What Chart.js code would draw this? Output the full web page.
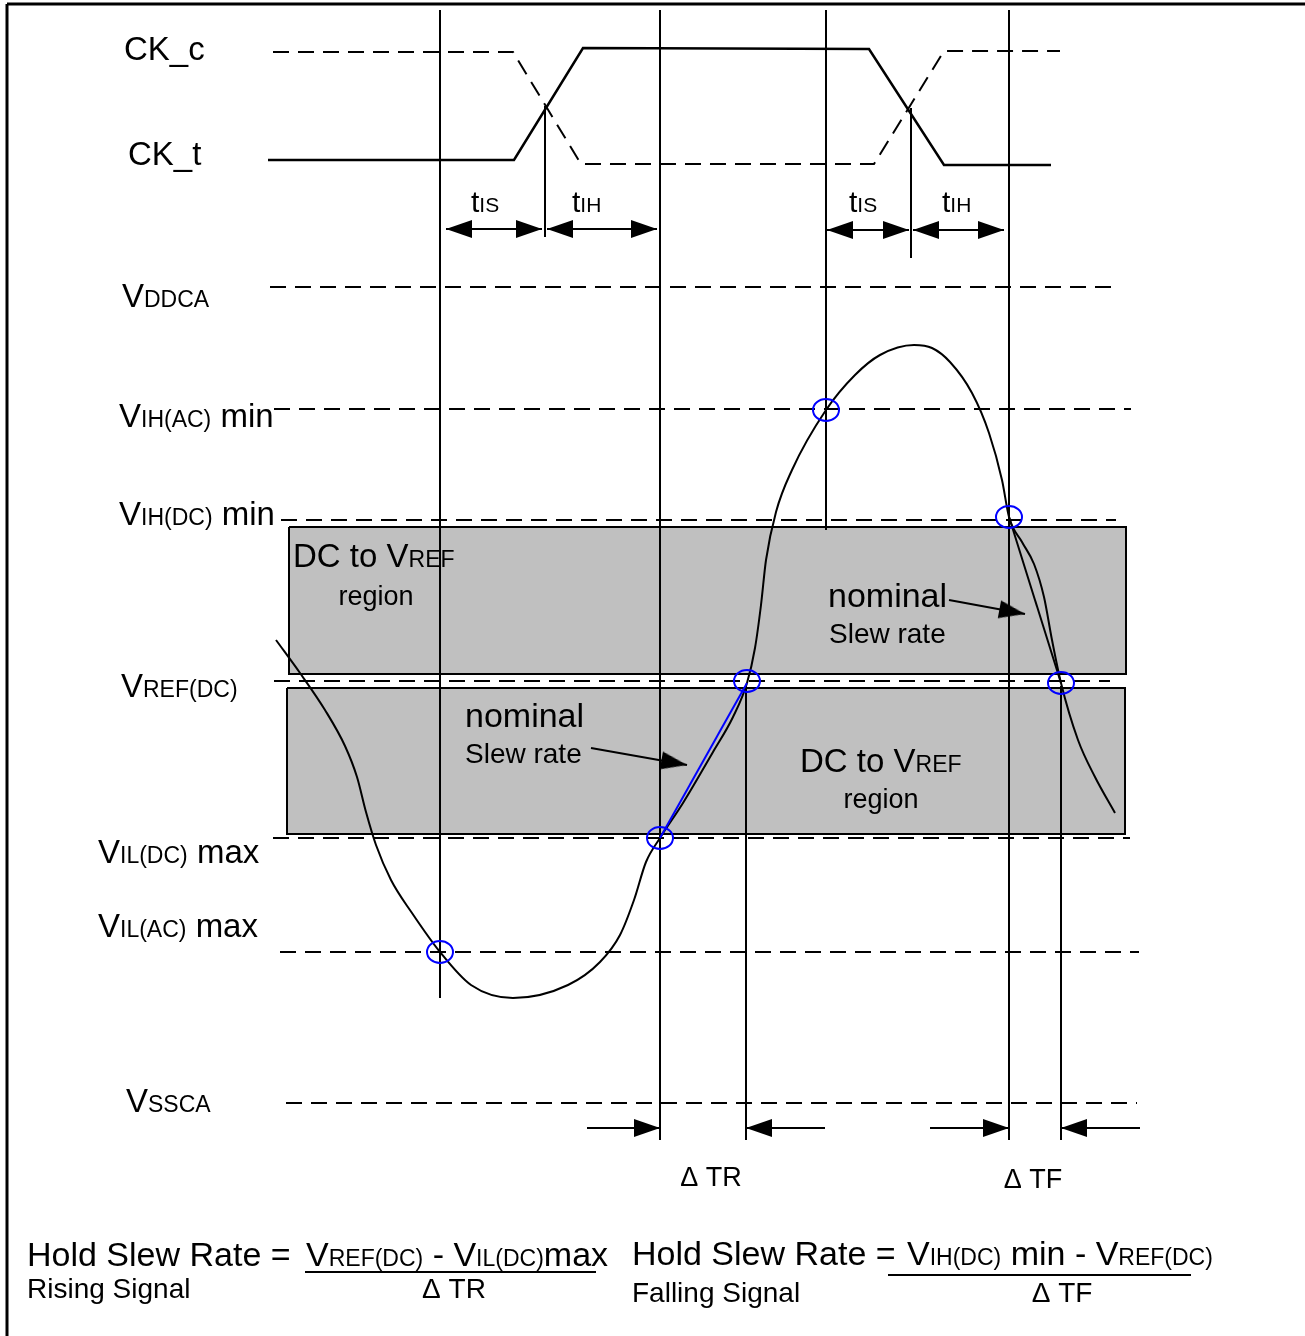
<!DOCTYPE html>
<html>
<head>
<meta charset="utf-8">
<script src="https://cdn.jsdelivr.net/npm/chart.js@4.4.1/dist/chart.umd.min.js"></script>
<style>
html, body { margin: 0; padding: 0; background: #fff; }
#wrap { width: 1305px; height: 1336px; }
</style>
</head>
<body>
<div id="wrap"><canvas id="canvas" width="1305" height="1336"></canvas></div>
<script>
// diagram units: x = time, y = level (0 at top)
var levelY    = [287, 409, 520, 681, 838, 952, 1103];   // VDDCA, VIH(AC), VIH(DC), VREF, VIL(DC), VIL(AC), VSSCA
var levelFrom = [270, 274, 281, 274, 273, 280, 286];
var levelTo   = [1119, 1131, 1116, 1110, 1130, 1139, 1137];

// clocks
var ckTx = [268, 514, 583, 869, 944, 1051];
var ckTy = [160, 160, 48, 49, 165, 165];
var ckCx = [273, 513, 581, 874, 944, 1060];
var ckCy = [52, 52, 164, 164, 51, 51];

// vertical timing markers [x, yTop, yBottom]
var markers = [[440, 10, 998], [545, 106, 237], [660, 10, 1140], [826, 10, 530],
               [911, 108, 258], [1009, 10, 1140], [746, 685, 1140], [1061, 686, 1140]];

// input signal
var sigX = [276, 300, 325, 345, 357, 366, 376, 391, 412, 440, 471, 513, 568, 600, 620, 634, 646, 660,
            683, 713, 733, 747, 755, 761, 766, 776, 792, 826, 855, 880, 914, 932, 950, 972, 989, 1002, 1009,
            1022, 1034, 1044, 1052, 1061, 1078, 1095, 1115];
var sigY = [640, 673, 710, 746, 777, 812, 845, 880, 913, 952, 985, 998, 985, 962, 935, 900, 862, 838,
            803, 752, 717, 683, 648, 605, 560, 512, 470, 410, 375, 355, 345, 348, 362, 393, 433, 480, 517,
            542, 564, 597, 640, 683, 740, 777, 813];

// nominal slew lines
var nomRiseX = [660, 747], nomRiseY = [838, 683];
var nomFallX = [1009, 1061], nomFallY = [517, 683];

// crossing marks
var hitX = [440, 826, 1009, 747, 1061, 660];
var hitY = [952, 410, 517, 681, 683, 838];

// DC to VREF regions [x0, x1, yTop, yBottom]
var regions = [[289, 1126, 527, 674], [287, 1125, 688, 834]];

// double arrows tIS / tIH [x0, x1, y]
var spans = [[446, 542, 229], [547, 657, 229], [827, 909, 230], [913, 1004, 230]];
// single arrows [fromX, fromY, tipX, tipY]
var arrows = [[587, 1128, 660, 1128], [825, 1128, 746, 1128], [930, 1128, 1009, 1128],
              [1140, 1128, 1061, 1128], [949, 600, 1025, 614], [591, 748, 687, 765]];

// fraction bars [x0, x1, y]
var bars = [[305, 596, 1272], [888, 1191, 1275]];

// text [x, baseline, align, runs]
var texts = [
  [124, 60, 'left', [['CK_c', 33]]],
  [128, 165, 'left', [['CK_t', 33]]],
  [471, 212, 'left', [['t', 30], ['IS', 21]]],
  [572, 212, 'left', [['t', 30], ['IH', 21]]],
  [849, 212, 'left', [['t', 30], ['IS', 21]]],
  [942, 212, 'left', [['t', 30], ['IH', 21]]],
  [122, 307, 'left', [['V', 33], ['DDCA', 23]]],
  [119, 427, 'left', [['V', 33], ['IH(AC)', 23], [' min', 33]]],
  [119, 525, 'left', [['V', 33], ['IH(DC)', 23], [' min', 33]]],
  [121, 697, 'left', [['V', 33], ['REF(DC)', 23]]],
  [98, 863, 'left', [['V', 33], ['IL(DC)', 23], [' max', 33]]],
  [98, 937, 'left', [['V', 33], ['IL(AC)', 23], [' max', 33]]],
  [126, 1112, 'left', [['V', 33], ['SSCA', 23]]],
  [293, 567, 'left', [['DC to V', 33], ['REF', 23]]],
  [376, 605, 'center', [['region', 27]]],
  [828, 607, 'left', [['nominal', 34]]],
  [829, 643, 'left', [['Slew rate', 28]]],
  [465, 727, 'left', [['nominal', 34]]],
  [465, 763, 'left', [['Slew rate', 28]]],
  [800, 772, 'left', [['DC to V', 33], ['REF', 23]]],
  [881, 808, 'center', [['region', 27]]],
  [711, 1186, 'center', [['\u0394 TR', 27]]],
  [1033, 1188, 'center', [['\u0394 TF', 27]]],
  [27, 1266, 'left', [['Hold Slew Rate = ', 34]]],
  [27, 1298, 'left', [['Rising Signal', 28]]],
  [306, 1266, 'left', [['V', 34], ['REF(DC)', 23], [' - V', 34], ['IL(DC)', 23], ['max', 34]]],
  [454, 1298, 'center', [['\u0394 TR', 28]]],
  [632, 1265, 'left', [['Hold Slew Rate = ', 34]]],
  [632, 1302, 'left', [['Falling Signal', 28]]],
  [907, 1265, 'left', [['V', 34], ['IH(DC)', 23], [' min - V', 34], ['REF(DC)', 23]]],
  [1062, 1302, 'center', [['\u0394 TF', 28]]]
];

var FONT = '"Liberation Sans", Arial, sans-serif';

// arrow head and ring images used as point styles
var head = document.createElement('canvas');
head.width = 26; head.height = 18;
var hc = head.getContext('2d');
hc.fillStyle = '#000';
hc.beginPath(); hc.moveTo(0, 0); hc.lineTo(26, 9); hc.lineTo(0, 18); hc.closePath(); hc.fill();

var ring = document.createElement('canvas');
ring.width = 30; ring.height = 26;
var rc = ring.getContext('2d');
rc.strokeStyle = '#0000ff'; rc.lineWidth = 2;
rc.beginPath(); rc.ellipse(15, 13, 13, 11, 0, 0, Math.PI * 2); rc.stroke();

var pts = function (xs, ys) {
  return xs.map(function (x, i) { return { x: x, y: ys[i] }; });
};
var line = function (xs, ys, extra) {
  var ds = { type: 'line', data: pts(xs, ys), borderColor: '#000', borderWidth: 2,
             pointRadius: 0, fill: false, tension: 0, order: 1 };
  for (var k in extra) ds[k] = extra[k];
  return ds;
};

var datasets = [];
//frame
datasets.push(line([7, 7], [1336, 4], { borderWidth: 3 }));
datasets.push(line([7, 1305], [4, 4], { borderWidth: 3 }));
//regions
regions.forEach(function (r) {
  datasets.push(line([r[0], r[1], r[1], r[0], r[0]], [r[2], r[2], r[3], r[3], r[2]],
    { fill: 'shape', backgroundColor: '#c0c0c0', borderWidth: 2, order: 5 }));
});
//levels
levelY.forEach(function (y, i) {
  datasets.push(line([levelFrom[i], levelTo[i]], [y, y], { borderDash: [16, 9], order: 3 }));
});
//clocks
datasets.push(line(ckTx, ckTy, { borderWidth: 2.5 }));
datasets.push(line(ckCx, ckCy, { borderWidth: 2, borderDash: [16, 9] }));
//markers
markers.forEach(function (m) {
  datasets.push(line([m[0], m[0]], [m[1], m[2]]));
});
//signal
datasets.push(line(sigX, sigY, { cubicInterpolationMode: 'monotone' }));
datasets.push(line(nomFallX, nomFallY));
datasets.push(line(nomRiseX, nomRiseY, { borderColor: '#0000ff', order: 0 }));
//fraction bars
bars.forEach(function (b) {
  datasets.push(line([b[0], b[1]], [b[2], b[2]]));
});

// arrows: shafts plus heads
var headPts = [], headRot = [];
var addHead = function (fx, fy, tx, ty) {
  var a = Math.atan2(ty - fy, tx - fx);
  headPts.push({ x: tx - 13 * Math.cos(a), y: ty - 13 * Math.sin(a) });
  headRot.push(a * 180 / Math.PI);
};
spans.forEach(function (s) {
  datasets.push(line([s[0], s[1]], [s[2], s[2]]));
  addHead(s[1], s[2], s[0], s[2]);
  addHead(s[0], s[2], s[1], s[2]);
});
arrows.forEach(function (a) {
  datasets.push(line([a[0], a[2]], [a[1], a[3]]));
  addHead(a[0], a[1], a[2], a[3]);
});
datasets.push({ type: 'scatter', data: headPts, pointStyle: head, pointRotation: headRot,
                pointRadius: 10, order: 0 });
datasets.push({ type: 'scatter', data: pts(hitX, hitY), pointStyle: ring, pointRadius: 12, order: 0 });

var textPlugin = {
  id: 'diagramText',
  afterDatasetsDraw: function (chart) {
    var ctx = chart.ctx, sx = chart.scales.x, sy = chart.scales.y;
    ctx.save();
    ctx.fillStyle = '#000';
    ctx.textAlign = 'left';
    ctx.textBaseline = 'alphabetic';
    texts.forEach(function (t) {
      var w = 0;
      t[3].forEach(function (r) { ctx.font = r[1] + 'px ' + FONT; w += ctx.measureText(r[0]).width; });
      var px = sx.getPixelForValue(t[0]);
      if (t[2] === 'center') px -= w / 2;
      var py = sy.getPixelForValue(t[1]);
      t[3].forEach(function (r) {
        ctx.font = r[1] + 'px ' + FONT;
        ctx.fillText(r[0], px, py);
        px += ctx.measureText(r[0]).width;
      });
    });
    ctx.restore();
  }
};

new Chart(document.getElementById('canvas').getContext('2d'), {
  type: 'scatter',
  data: { datasets: datasets },
  options: {
    responsive: false,
    animation: false,
    devicePixelRatio: 1,
    layout: { padding: 0, autoPadding: false },
    plugins: { legend: { display: false }, tooltip: { enabled: false } },
    scales: {
      x: { type: 'linear', min: 0, max: 1305, display: false },
      y: { type: 'linear', min: 0, max: 1336, reverse: true, display: false }
    }
  },
  plugins: [textPlugin]
});
</script>
</body>
</html>
